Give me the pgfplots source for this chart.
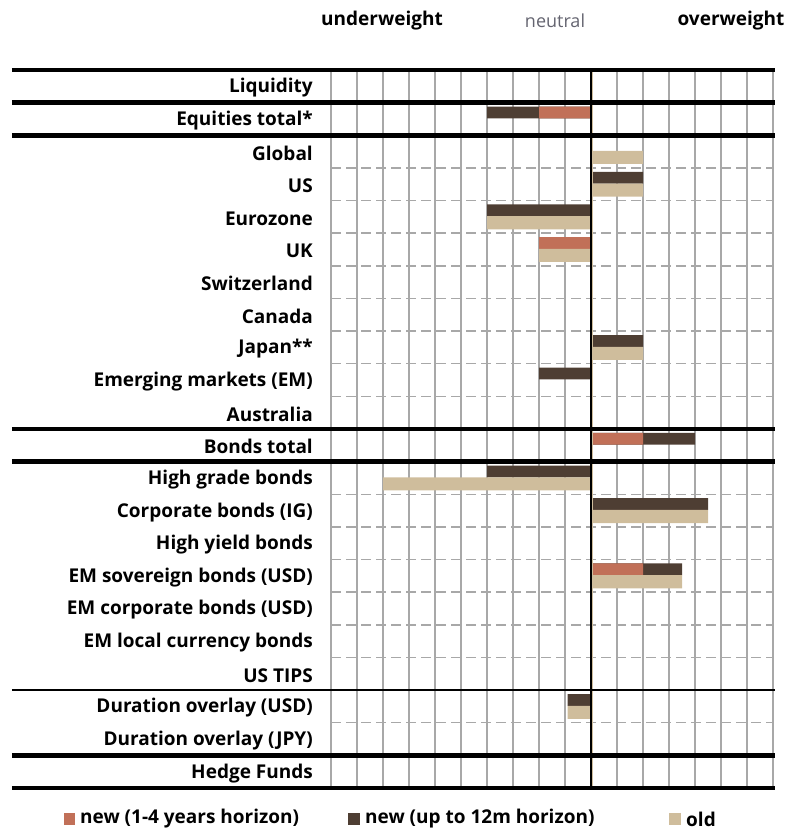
\documentclass[border=0pt]{standalone}
\usepackage{fontspec}
\setmainfont{Open Sans}
\usepackage{pgfplots}
\pgfplotsset{compat=1.18}

\definecolor{newlong}{RGB}{193,112,88}
\definecolor{newshort}{RGB}{78,62,51}
\definecolor{oldpos}{RGB}{207,189,156}
\definecolor{gridc}{RGB}{168,168,168}
\definecolor{neutralc}{RGB}{100,100,112}

\newcommand{\lbl}{\bfseries\fontsize{19}{19}\selectfont}

\begin{document}
\begin{tikzpicture}
\path[use as bounding box] (0pt,0pt) rectangle (791pt,830pt);

% column headings
\node[font=\lbl] at (382pt,809pt) {underweight};
\node[font=\fontsize{18}{18}\selectfont, text=neutralc] at (555pt,809pt) {neutral};
\node[font=\lbl] at (731pt,809pt) {overweight};

\begin{axis}[
  at={(331pt,42pt)}, anchor=south west,
  width=442pt, height=718pt, scale only axis,
  xmin=-10, xmax=7, ymin=-0.5, ymax=21.5, y dir=reverse,
  clip=false,
  axis line style={draw=none},
  tick style={draw=none},
  xtick={-10,...,7}, xticklabels={},
  xmajorgrids=true,
  major grid style={gridc, line width=1.4pt},
  ytick={0,...,21},
  yticklabels={Liquidity, Equities total*, Global, US, Eurozone, UK,
    Switzerland, Canada, Japan**, Emerging markets (EM), Australia,
    Bonds total, High grade bonds, Corporate bonds (IG), High yield bonds,
    EM sovereign bonds (USD), EM corporate bonds (USD),
    EM local currency bonds, US TIPS, Duration overlay (USD),
    Duration overlay (JPY), Hedge Funds},
  yticklabel style={font=\lbl, inner sep=0pt, xshift=-18pt, yshift=-1.5pt},
  extra y ticks={2.5,3.5,4.5,5.5,6.5,7.5,8.5,9.5,12.5,13.5,14.5,15.5,16.5,17.5,19.5},
  extra y tick labels={},
  extra y tick style={ymajorgrids=true,
    major grid style={gridc, line width=1.4pt, dash pattern=on 10pt off 5pt}},
]

% new positioning, up to 12 months
\addplot[xbar, bar width=0.36, bar shift=-0.2, fill=newshort, draw=none]
  coordinates {(-4,1) (2,3) (-4,4) (2,8) (-2,9) (4,11) (-4,12) (4.5,13) (3.5,15) (-0.9,19)};
% new positioning, 1-4 years
\addplot[xbar, bar width=0.36, bar shift=-0.2, fill=newlong, draw=none]
  coordinates {(-2,1) (-2,5) (2,11) (2,15)};
% previous positioning
\addplot[xbar, bar width=0.40, bar shift=0.18, fill=oldpos, draw=none]
  coordinates {(2,2) (2,3) (-4,4) (-2,5) (2,8) (-8,12) (4.5,13) (3.5,15) (-0.9,19)};

% neutral line
\draw[oldpos, line width=0.8pt, xshift=1.4pt] (axis cs:0,-0.5) -- (axis cs:0,21.5);
\draw[black, line width=1.4pt] (axis cs:0,-0.5) -- (axis cs:0,21.5);

% section rules
\pgfplotsinvokeforeach{-0.5,0.5,1.5,10.5,11.5,20.5,21.5}{
  \draw[black, line width=4.5pt] (axis cs:-22.27,#1) -- (axis cs:7.08,#1);
}
\draw[black, line width=1.6pt] (axis cs:-22.27,18.5) -- (axis cs:7.08,18.5);
\end{axis}

% legend
\fill[newlong] (64pt,5pt) rectangle (75pt,17pt);
\node[font=\lbl, anchor=west, inner sep=0pt] at (80pt,11pt) {new (1-4 years horizon)};
\fill[newshort] (348pt,5pt) rectangle (360pt,17pt);
\node[font=\lbl, anchor=west, inner sep=0pt] at (365pt,11pt) {new (up to 12m horizon)};
\fill[oldpos] (669pt,5pt) rectangle (681pt,17pt);
\node[font=\lbl, anchor=west, inner sep=0pt] at (686pt,11pt) {old};
\end{tikzpicture}
\end{document}
